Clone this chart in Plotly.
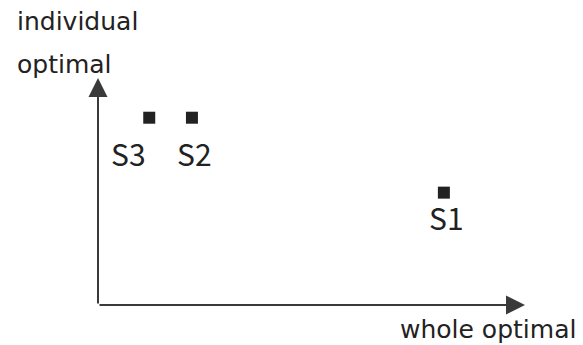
import plotly.graph_objects as go

# strategies placed on whole-optimal (x) vs individual-optimal (y)
names = ["S1", "S2", "S3"]
whole_opt = [8.1, 2.2, 1.2]
indiv_opt = [4.95, 8.25, 8.25]

# label offsets (px) under each marker
label_dx = [3, 3, -21]
label_dy = [-24, -35, -35]

LABEL_FONT = "Noto Sans CJK JP, Liberation Sans, sans-serif"
AXIS_FONT = "DejaVu Sans, sans-serif"
INK = "#222222"
LINE = "#3a3a3a"

fig = go.Figure()
fig.add_trace(go.Scatter(
    x=whole_opt,
    y=indiv_opt,
    mode="markers",
    marker=dict(symbol="square", size=12, color=INK),
    hoverinfo="skip",
    showlegend=False,
))

for n, x, y, dx, dy in zip(names, whole_opt, indiv_opt, label_dx, label_dy):
    fig.add_annotation(
        x=x, y=y, text=n, showarrow=False,
        xshift=dx, yshift=dy,
        font=dict(family=LABEL_FONT, size=30, color=INK),
    )

# axis arrows
fig.add_annotation(x=10, y=0, ax=0, ay=0, xref="x", yref="y", axref="x", ayref="y",
                   showarrow=True, arrowhead=2, arrowsize=1.9, arrowwidth=2,
                   arrowcolor=LINE, text="")
fig.add_annotation(x=0, y=10, ax=0, ay=0, xref="x", yref="y", axref="x", ayref="y",
                   showarrow=True, arrowhead=2, arrowsize=1.9, arrowwidth=2,
                   arrowcolor=LINE, text="")

# axis titles
fig.add_annotation(x=-0.194, y=1.25, xref="paper", yref="paper", text="individual",
                   showarrow=False, xanchor="left", yanchor="middle",
                   font=dict(family=AXIS_FONT, size=25, color=INK))
fig.add_annotation(x=-0.194, y=1.06, xref="paper", yref="paper", text="optimal",
                   showarrow=False, xanchor="left", yanchor="middle",
                   font=dict(family=AXIS_FONT, size=25, color=INK))
fig.add_annotation(x=1.124, y=-0.106, xref="paper", yref="paper", text="whole optimal",
                   showarrow=False, xanchor="right", yanchor="middle",
                   font=dict(family=AXIS_FONT, size=25, color=INK))

# page body adds ~8px offset, so the figure is a bit smaller than the window
fig.update_layout(
    width=575,
    height=337,
    paper_bgcolor="white",
    plot_bgcolor="white",
    margin=dict(l=90, r=58, t=70, b=40),
    xaxis=dict(range=[0, 10], visible=False, fixedrange=True),
    yaxis=dict(range=[0, 10], visible=False, fixedrange=True),
)

fig.write_html("out.html")
